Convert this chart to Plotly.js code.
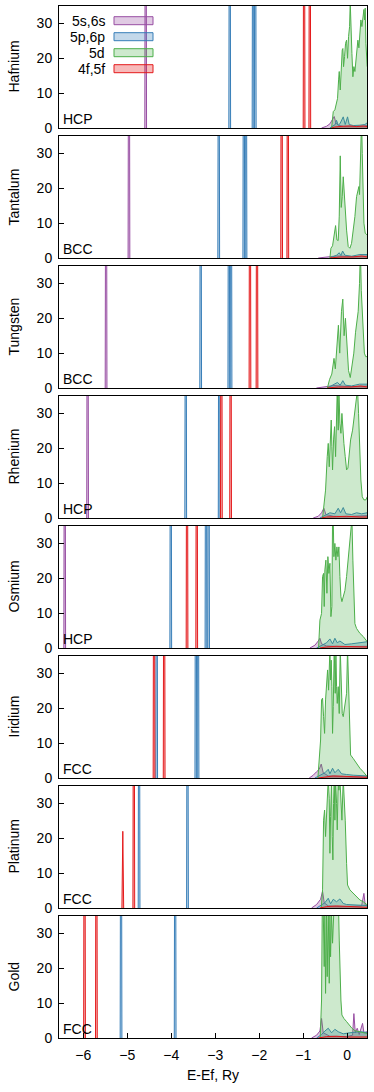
<!DOCTYPE html>
<html>
<head>
<meta charset="utf-8">
<script src="https://cdn.plot.ly/plotly-3.0.1.min.js"></script>
<style>
  body { margin: 0; background: #fff; }
  #dos { width: 374px; height: 1092px; }
</style>
</head>
<body>
<div id="dos"></div>
<script>
// element names and lattice of each panel, top to bottom
const elements = ['Hafnium', 'Tantalum', 'Tungsten', 'Rhenium', 'Osmium', 'Iridium', 'Platinum', 'Gold'];
const structures = ['HCP', 'BCC', 'BCC', 'HCP', 'HCP', 'FCC', 'FCC', 'FCC'];
const xTicks = [-6, -5, -4, -3, -2, -1, 0];
const yTicks = [0, 10, 20, 30];

// semicore levels: [energy (Ry), peak height]
const sCore = [
  [[-4.58, 150]], [[-4.96, 150]], [[-5.48, 150]], [[-5.90, 150]], [[-6.42, 150]], [], [], []
];
const pCore = [
  [[-2.67, 150], [-2.14, 150], [-2.09, 150]],
  [[-2.92, 150], [-2.35, 150], [-2.30, 150]],
  [[-3.33, 150], [-2.69, 150], [-2.64, 150]],
  [[-3.67, 150], [-2.91, 150]],
  [[-4.01, 150], [-3.21, 150], [-3.15, 150]],
  [[-4.33, 150], [-3.44, 150], [-3.39, 150]],
  [[-4.73, 150], [-3.63, 150]],
  [[-5.14, 150], [-3.91, 150]]
];
const fCore = [
  [[-0.98, 150], [-0.85, 150]],
  [[-1.49, 150], [-1.35, 150]],
  [[-2.21, 150], [-2.05, 150]],
  [[-2.86, 150], [-2.65, 150]],
  [[-3.64, 150], [-3.42, 150]],
  [[-4.39, 150], [-4.16, 150]],
  [[-5.10, 22], [-4.85, 150]],
  [[-5.97, 150], [-5.70, 150]]
];

// valence band DOS: [energy (Ry), states]
const sBand = [
  [[-0.583, 0], [-0.469, 0.5], [-0.393, 1.2], [-0.333, 2.4], [-0.295, 3.3], [-0.257, 1.5], [-0.204, 0.8], [-0.090, 0.5], [0.137, 0.4], [0.364, 0.5], [0.455, 0.8]],
  [[-0.658, 0], [-0.469, 0.3], [-0.242, 0.6], [-0.014, 0.5], [0.213, 0.4], [0.455, 0.6]],
  [[-0.700, 0], [-0.500, 0.4], [-0.300, 0.7], [-0.050, 0.5], [0.200, 0.4], [0.455, 0.6]],
  [[-0.772, 0], [-0.658, 0.5], [-0.583, 1.5], [-0.530, 2.8], [-0.484, 1.0], [-0.317, 0.5], [-0.014, 0.4], [0.289, 0.5], [0.455, 0.7]],
  [[-0.848, 0], [-0.734, 0.8], [-0.658, 2.0], [-0.620, 2.8], [-0.583, 1.2], [-0.469, 0.6], [-0.166, 0.4], [0.137, 0.4], [0.455, 0.5]],
  [[-0.863, 0], [-0.772, 0.8], [-0.696, 1.8], [-0.636, 2.5], [-0.590, 4.0], [-0.545, 1.5], [-0.431, 0.6], [-0.166, 0.4], [0.137, 0.3], [0.455, 0.3]],
  [[-0.810, 0], [-0.696, 1.0], [-0.605, 2.5], [-0.560, 4.8], [-0.522, 1.5], [-0.431, 0.6], [-0.166, 0.4], [0.137, 0.4], [0.327, 0.6], [0.380, 4.2], [0.410, 0.8], [0.455, 0.6]],
  [[-0.810, 0], [-0.696, 0.8], [-0.620, 2.0], [-0.583, 5.6], [-0.545, 1.5], [-0.393, 0.5], [-0.014, 0.4], [0.122, 0.8], [0.152, 7.0], [0.183, 1.5], [0.228, 2.8], [0.273, 1.0], [0.349, 4.2], [0.380, 1.5], [0.455, 1.8]]
];
const pBand = [
  [[-0.393, 0], [-0.317, 0.5], [-0.272, 1.0], [-0.242, 2.2], [-0.204, 0.8], [-0.166, 1.2], [-0.090, 3.2], [-0.045, 1.0], [0.008, 3.2], [0.046, 1.0], [0.137, 0.7], [0.289, 0.8], [0.402, 1.0], [0.455, 1.5]],
  [[-0.393, 0], [-0.242, 0.8], [-0.181, 1.5], [-0.143, 0.7], [-0.105, 2.0], [-0.052, 0.8], [0.099, 0.5], [0.289, 1.0], [0.455, 1.0]],
  [[-0.450, 0], [-0.300, 0.9], [-0.220, 1.6], [-0.160, 0.8], [-0.100, 2.1], [-0.040, 0.8], [0.100, 0.6], [0.280, 1.1], [0.455, 1.1]],
  [[-0.620, 0], [-0.507, 0.8], [-0.393, 1.5], [-0.280, 1.2], [-0.204, 2.8], [-0.151, 1.5], [-0.090, 3.0], [-0.030, 1.2], [0.099, 1.0], [0.213, 1.5], [0.327, 1.2], [0.455, 1.5]],
  [[-0.696, 0], [-0.583, 0.8], [-0.469, 1.5], [-0.393, 2.6], [-0.333, 1.2], [-0.280, 2.8], [-0.226, 1.5], [-0.166, 2.0], [-0.052, 1.0], [0.099, 1.2], [0.289, 1.5], [0.455, 1.8]],
  [[-0.734, 0], [-0.620, 0.8], [-0.507, 1.5], [-0.431, 2.5], [-0.393, 1.2], [-0.333, 2.8], [-0.280, 1.5], [-0.204, 2.5], [-0.128, 1.2], [-0.014, 1.0], [0.137, 0.8], [0.455, 0.6]],
  [[-0.696, 0], [-0.583, 1.0], [-0.507, 1.5], [-0.431, 2.8], [-0.378, 1.2], [-0.317, 2.5], [-0.242, 1.8], [-0.166, 2.6], [-0.090, 1.3], [-0.014, 1.0], [0.213, 0.8], [0.455, 0.7]],
  [[-0.696, 0], [-0.583, 1.0], [-0.507, 2.0], [-0.431, 2.8], [-0.355, 1.5], [-0.280, 2.5], [-0.204, 1.8], [-0.090, 1.2], [0.061, 1.5], [0.289, 1.8], [0.455, 1.6]]
];
const dBand = [
  [[-0.355, 0], [-0.317, 4.7], [-0.280, 5.2], [-0.242, 8.0], [-0.219, 8.5], [-0.196, 13.8], [-0.181, 16.2], [-0.158, 10.9], [-0.136, 17.6], [-0.113, 22.4], [-0.098, 22.8], [-0.083, 17.6], [-0.060, 20.5], [-0.037, 24.3], [-0.014, 25.2], [0.008, 20.0], [0.031, 26.2], [0.054, 29.1], [0.069, 36], [0.084, 27.2], [0.107, 21.4], [0.129, 14.7], [0.152, 17.6], [0.175, 16.2], [0.198, 19.5], [0.220, 21.4], [0.243, 25.2], [0.266, 23.0], [0.289, 28.1], [0.311, 31.0], [0.334, 29.1], [0.357, 32.9], [0.380, 34.0], [0.395, 31.0], [0.410, 34.4], [0.425, 24.3], [0.440, 19.1], [0.455, 17.6]],
  [[-0.393, 0], [-0.370, 2.8], [-0.333, 3.5], [-0.295, 6.5], [-0.264, 9.3], [-0.234, 5.2], [-0.204, 5.0], [-0.181, 12.0], [-0.158, 29.3], [-0.136, 14.5], [-0.113, 17.6], [-0.090, 23.3], [-0.067, 17.6], [-0.045, 12.0], [-0.014, 8.0], [0.023, 3.3], [0.061, 2.8], [0.099, 4.2], [0.137, 8.0], [0.175, 11.9], [0.213, 17.6], [0.243, 19.1], [0.266, 20.5], [0.281, 18.2], [0.296, 24.3], [0.311, 31.0], [0.327, 40.0], [0.342, 30.0], [0.357, 19.0], [0.380, 10.0], [0.410, 7.1], [0.455, 6.6]],
  [[-0.450, 0], [-0.400, 2.5], [-0.350, 4.0], [-0.300, 8.5], [-0.270, 5.5], [-0.240, 12.0], [-0.200, 18.0], [-0.170, 10.0], [-0.130, 22.0], [-0.100, 25.5], [-0.070, 15.0], [-0.040, 20.0], [-0.010, 12.0], [0.030, 5.0], [0.070, 3.0], [0.110, 6.0], [0.150, 10.0], [0.190, 16.0], [0.220, 20.0], [0.250, 22.0], [0.280, 30.0], [0.300, 40.0], [0.320, 28.0], [0.350, 18.0], [0.390, 10.0], [0.420, 9.0], [0.455, 9.0]],
  [[-0.560, 0], [-0.522, 5.2], [-0.492, 8.0], [-0.454, 17.6], [-0.431, 21.4], [-0.408, 14.7], [-0.386, 23.3], [-0.363, 28.1], [-0.348, 20.5], [-0.333, 13.8], [-0.310, 22.4], [-0.287, 26.2], [-0.264, 17.6], [-0.242, 27.2], [-0.226, 37], [-0.204, 25.2], [-0.189, 37], [-0.166, 27.2], [-0.143, 24.3], [-0.120, 30.0], [-0.098, 25.2], [-0.075, 21.4], [-0.045, 17.6], [-0.014, 13.8], [0.016, 14.3], [0.046, 17.6], [0.077, 22.4], [0.122, 25.2], [0.152, 28.1], [0.183, 31.0], [0.213, 34.3], [0.235, 37], [0.258, 30.0], [0.281, 20.5], [0.311, 10.9], [0.342, 6.1], [0.380, 5.2], [0.425, 5.2], [0.455, 6.1]],
  [[-0.651, 0], [-0.620, 8.0], [-0.583, 9.9], [-0.560, 20.5], [-0.537, 21.4], [-0.522, 11.9], [-0.507, 22.4], [-0.484, 25.2], [-0.461, 15.7], [-0.439, 26.2], [-0.416, 21.4], [-0.393, 24.3], [-0.370, 9.0], [-0.348, 11.9], [-0.333, 37], [-0.317, 37], [-0.302, 26.2], [-0.280, 30.0], [-0.257, 25.2], [-0.234, 29.0], [-0.211, 26.2], [-0.189, 29.0], [-0.166, 20.5], [-0.143, 14.7], [-0.120, 13.3], [-0.090, 14.7], [-0.052, 16.5], [-0.014, 20.5], [0.023, 25.2], [0.061, 29.0], [0.092, 33.8], [0.107, 37], [0.129, 25.2], [0.152, 15.7], [0.175, 7.0], [0.213, 5.6], [0.289, 4.2], [0.364, 3.3], [0.402, 2.8], [0.455, 1.8]],
  [[-0.666, 0], [-0.636, 5.0], [-0.605, 10.9], [-0.583, 22.4], [-0.560, 22.9], [-0.537, 17.6], [-0.514, 12.8], [-0.492, 22.4], [-0.469, 26.2], [-0.446, 31.0], [-0.423, 25.2], [-0.408, 37], [-0.393, 37], [-0.378, 28.1], [-0.363, 33.8], [-0.348, 26.2], [-0.333, 12.8], [-0.317, 20.5], [-0.295, 37], [-0.272, 24.3], [-0.257, 37], [-0.242, 26.2], [-0.226, 21.4], [-0.204, 26.2], [-0.181, 18.5], [-0.158, 37], [-0.136, 25.2], [-0.113, 18.5], [-0.090, 17.6], [-0.052, 20.5], [-0.014, 24.3], [0.008, 37], [0.023, 29.0], [0.046, 20.5], [0.061, 10.9], [0.077, 6.6], [0.137, 5.6], [0.213, 4.2], [0.289, 2.8], [0.364, 1.8], [0.425, 0.9], [0.455, 0.4]],
  [[-0.590, 0], [-0.560, 5.2], [-0.537, 25.2], [-0.514, 28.1], [-0.492, 20.5], [-0.469, 26.2], [-0.446, 32.9], [-0.431, 37], [-0.408, 31.5], [-0.393, 15.7], [-0.378, 26.2], [-0.355, 37], [-0.340, 20.5], [-0.325, 13.8], [-0.310, 30.0], [-0.295, 37], [-0.280, 25.2], [-0.264, 37], [-0.242, 30.0], [-0.226, 22.4], [-0.204, 37], [-0.189, 33.8], [-0.166, 37], [-0.143, 30.0], [-0.120, 25.2], [-0.090, 37], [-0.067, 32.0], [-0.045, 25.2], [-0.014, 12.8], [0.008, 6.6], [0.061, 5.2], [0.137, 4.2], [0.213, 3.3], [0.289, 2.3], [0.364, 1.8], [0.425, 1.3], [0.455, 0.9]],
  [[-0.613, 0], [-0.583, 10.9], [-0.567, 37], [-0.545, 37], [-0.522, 20.5], [-0.507, 37], [-0.492, 12.8], [-0.469, 37], [-0.454, 17.6], [-0.431, 37], [-0.408, 15.7], [-0.393, 37], [-0.378, 23.3], [-0.355, 37], [-0.333, 27.2], [-0.302, 37], [-0.264, 37], [-0.226, 37], [-0.196, 37], [-0.181, 28.1], [-0.166, 20.5], [-0.143, 10.9], [-0.120, 6.6], [-0.075, 5.6], [-0.014, 4.7], [0.061, 3.3], [0.107, 2.8], [0.175, 2.1], [0.289, 1.8], [0.455, 1.3]]
];
const fBand = [
  [[-0.355, 0], [-0.280, 0.3], [-0.090, 0.5], [0.061, 0.6], [0.213, 0.4], [0.364, 0.6], [0.455, 0.4]],
  [[-0.393, 0], [-0.166, 0.3], [0.137, 0.3], [0.327, 0.6], [0.455, 0.3]],
  [[-0.450, 0], [-0.200, 0.3], [0.100, 0.3], [0.300, 0.6], [0.455, 0.3]],
  [[-0.583, 0], [-0.469, 0.3], [-0.242, 0.4], [-0.014, 0.5], [0.289, 0.3], [0.455, 0.3]],
  [[-0.620, 0], [-0.469, 0.3], [-0.242, 0.5], [-0.014, 0.4], [0.289, 0.3], [0.455, 0.3]],
  [[-0.658, 0], [-0.469, 0.4], [-0.317, 0.6], [-0.090, 0.5], [0.137, 0.3], [0.455, 0.2]],
  [[-0.620, 0], [-0.469, 0.4], [-0.242, 0.6], [-0.014, 0.4], [0.455, 0.2]],
  [[-0.658, 0], [-0.469, 0.4], [-0.242, 0.5], [-0.014, 0.3], [0.455, 0.3]]
];

const orbitals = [
  { name: '5s,6s', core: sCore, band: sBand, color: '#984ea3', fill: 'rgba(152,78,163,0.3)' },
  { name: '5p,6p', core: pCore, band: pBand, color: '#377eb8', fill: 'rgba(55,126,184,0.3)' },
  { name: '5d', core: [[], [], [], [], [], [], [], []], band: dBand, color: '#4daf4a', fill: 'rgba(77,175,74,0.28)' },
  { name: '4f,5f', core: fCore, band: fBand, color: '#e41a1c', fill: 'rgba(228,26,28,0.3)' }
];

const W = 374, H = 1092;
const mL = 59, mR = 7, mT = 6, mB = 54;
const plotH = H - mT - mB;
const panelH = 122, gap = 8;
const fontFam = 'Liberation Sans, Arial, Helvetica, sans-serif';

function paperY(px) {
  return (H - mB - px) / plotH;
}

// a level is a narrow peak; the band is the measured curve
function dosTrace(core, band, k, orb) {
  const x = [], y = [];
  core.forEach(([e, h]) => {
    x.push(e - 0.02, e, e + 0.02, null);
    y.push(0, h, 0, null);
  });
  band.forEach(([e, v]) => {
    x.push(e);
    y.push(v);
  });
  return {
    type: 'scatter', mode: 'lines', x: x, y: y,
    xaxis: 'x' + k, yaxis: 'y' + k,
    fill: 'tozeroy', fillcolor: orb.fill,
    line: { color: orb.color, width: 1 },
    connectgaps: false, showlegend: false, hoverinfo: 'skip'
  };
}

const traces = [];
const layout = {
  width: W, height: H,
  margin: { l: mL, r: mR, t: mT, b: mB },
  paper_bgcolor: '#fff', plot_bgcolor: '#fff',
  font: { family: fontFam, size: 14, color: '#000' },
  showlegend: false,
  annotations: [],
  shapes: []
};

elements.forEach((el, i) => {
  const k = i + 1;
  orbitals.forEach(orb => traces.push(dosTrace(orb.core[i], orb.band[i], k, orb)));

  const top = mT + i * (panelH + gap);
  const bottom = top + panelH;
  const last = i === elements.length - 1;

  layout['xaxis' + k] = {
    domain: [0, 1], anchor: 'y' + k,
    range: [-6.55, 0.45],
    tickvals: xTicks,
    ticks: last ? 'inside' : '', ticklen: 5, tickcolor: '#000',
    showticklabels: last,
    showline: true, mirror: true, linecolor: '#000', linewidth: 1,
    showgrid: false, zeroline: false,
    tickfont: { size: 14, color: '#000' },
    ticklabelstandoff: 4
  };
  if (k > 1) layout['xaxis' + k].matches = 'x';
  if (last) layout['xaxis' + k].title = { text: 'E-Ef, Ry', standoff: 8, font: { size: 14 } };

  layout['yaxis' + k] = {
    domain: [paperY(bottom), paperY(top)], anchor: 'x' + k,
    range: [0, 35],
    tickvals: yTicks,
    ticks: 'inside', ticklen: 5, tickcolor: '#000',
    showline: true, mirror: true, linecolor: '#000', linewidth: 1,
    showgrid: false, zeroline: false,
    tickfont: { size: 14, color: '#000' },
    ticklabelstandoff: 3
  };

  layout.annotations.push({
    text: el, textangle: -90,
    xref: 'paper', yref: 'y' + k + ' domain',
    x: (13.5 - mL) / (W - mL - mR), y: 0.5,
    xanchor: 'center', yanchor: 'middle',
    showarrow: false, font: { size: 14, color: '#000' }
  });
  layout.annotations.push({
    text: structures[i],
    xref: 'x' + k + ' domain', yref: 'y' + k + ' domain',
    x: 0, y: 0, xanchor: 'left', yanchor: 'bottom',
    xshift: 2, yshift: -1,
    showarrow: false, font: { size: 14, color: '#000' }
  });
});

// legend drawn inside the top panel: label on the left, swatch on the right
const plotW = W - mL - mR;
orbitals.forEach((orb, j) => {
  const cy = 20.7 + j * 16;
  layout.annotations.push({
    text: orb.name,
    xref: 'paper', yref: 'paper',
    x: (107 - mL) / plotW, y: paperY(cy),
    xanchor: 'right', yanchor: 'middle',
    showarrow: false, font: { size: 14, color: '#000' }
  });
  layout.shapes.push({
    type: 'rect', xref: 'paper', yref: 'paper',
    x0: (114 - mL) / plotW, x1: (153 - mL) / plotW,
    y0: paperY(cy + 4), y1: paperY(cy - 4),
    fillcolor: orb.fill, line: { color: orb.color, width: 1 }
  });
});

Plotly.newPlot('dos', traces, layout, { staticPlot: true, displayModeBar: false });
</script>
</body>
</html>
